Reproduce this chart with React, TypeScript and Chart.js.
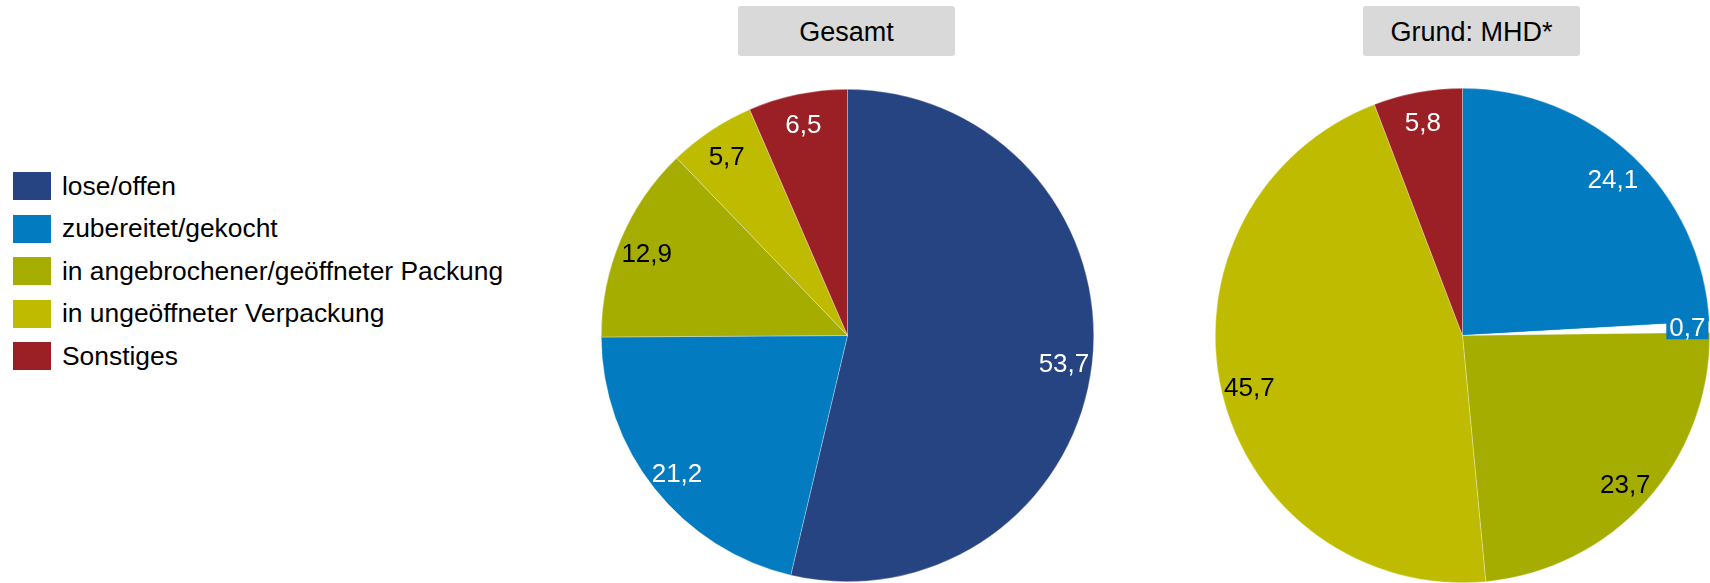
import React, { useEffect, useRef } from "react";
import { Chart, registerables } from "chart.js";

Chart.register(...registerables);

const categories = [
  "lose/offen",
  "zubereitet/gekocht",
  "in angebrochener/geöffneter Packung",
  "in ungeöffneter Verpackung",
  "Sonstiges",
];
const categoryColors = ["#264382", "#027BC0", "#A4AD00", "#BFBB00", "#9B2026"];

const gesamtTitle = "Gesamt";
const gesamtLabels = categories;
const gesamtValues = [53.7, 21.2, 12.9, 5.7, 6.5];
const gesamtColors = categoryColors;
const gesamtTextColors = ["#FFFFFF", "#FFFFFF", "#000000", "#000000", "#FFFFFF"];
const gesamtBoxColors: (string | null)[] = [null, null, null, null, null];

const mhdTitle = "Grund: MHD*";
const mhdLabels = [
  "zubereitet/gekocht",
  "lose/offen",
  "in angebrochener/geöffneter Packung",
  "in ungeöffneter Verpackung",
  "Sonstiges",
];
const mhdValues = [24.1, 0.7, 23.7, 45.7, 5.8];
const mhdColors = ["#027BC0", "#FFFFFF", "#A4AD00", "#BFBB00", "#9B2026"];
const mhdTextColors = ["#FFFFFF", "#FFFFFF", "#000000", "#000000", "#FFFFFF"];
const mhdBoxColors: (string | null)[] = [null, "#027BC0", null, null, null];

const FONT = "'Liberation Sans', Arial, Helvetica, sans-serif";

const fmt = (v: number) => v.toFixed(1).replace(".", ",");

const sliceLabelPlugin = {
  id: "sliceLabels",
  afterDatasetsDraw(chart: any, _args: any, opts: any) {
    const ctx = chart.ctx;
    const meta = chart.getDatasetMeta(0);
    const ds = chart.data.datasets[0];
    meta.data.forEach((arc: any, i: number) => {
      const p = arc.getProps(["x", "y", "startAngle", "endAngle", "outerRadius"], true);
      const mid = (p.startAngle + p.endAngle) / 2;
      const box = opts.boxColors[i];
      const rf = box ? opts.boxRadiusFactor : opts.radiusFactor;
      const lx = p.x + Math.cos(mid) * p.outerRadius * rf;
      const ly = p.y + Math.sin(mid) * p.outerRadius * rf;
      const text = fmt(ds.data[i]);
      ctx.save();
      ctx.font = `26px ${FONT}`;
      ctx.textAlign = "center";
      ctx.textBaseline = "middle";
      if (box) {
        const w = ctx.measureText(text).width + 6;
        ctx.fillStyle = box;
        ctx.fillRect(lx - w / 2, ly - 11.5, w, 23);
        ctx.fillStyle = opts.textColors[i];
        ctx.fillText(text, lx, ly + 1);
      } else {
        ctx.fillStyle = opts.textColors[i];
        ctx.fillText(text, lx, ly + 4);
      }
      ctx.restore();
    });
  },
};

function PieChart(props: {
  labels: string[];
  values: number[];
  colors: string[];
  textColors: string[];
  boxColors: (string | null)[];
  size: number;
}) {
  const ref = useRef<HTMLCanvasElement | null>(null);
  useEffect(() => {
    if (!ref.current) return;
    const chart = new Chart(ref.current, {
      type: "pie",
      data: {
        labels: props.labels,
        datasets: [
          {
            data: props.values,
            backgroundColor: props.colors,
            borderColor: "rgba(255,255,255,0.6)",
            borderWidth: 0.5,
          },
        ],
      },
      options: {
        animation: false,
        responsive: false,
        maintainAspectRatio: false,
        layout: { padding: 0 },
        plugins: {
          legend: { display: false },
          tooltip: { enabled: false },
          title: { display: false },
          sliceLabels: {
            textColors: props.textColors,
            boxColors: props.boxColors,
            radiusFactor: 0.885,
            boxRadiusFactor: 0.91,
          },
        } as any,
      },
      plugins: [sliceLabelPlugin as any],
    });
    return () => chart.destroy();
  }, []);
  return <canvas ref={ref} width={props.size} height={props.size} style={{ width: props.size, height: props.size, display: "block" }} />;
}

function TitleBox(props: { text: string; left: number }) {
  return (
    <div
      style={{
        position: "absolute",
        left: props.left,
        top: 6,
        width: 217,
        height: 50,
        background: "#D9D9D9",
        borderRadius: 3,
        display: "flex",
        alignItems: "center",
        justifyContent: "center",
        fontFamily: FONT,
        fontSize: 27,
        color: "#000",
        paddingTop: 2,
        boxSizing: "border-box",
      }}
    >
      {props.text}
    </div>
  );
}

export default function App() {
  useEffect(() => {
    document.body.style.margin = "0";
    document.body.style.overflow = "hidden";
  }, []);
  return (
    <div
      style={{
        position: "absolute",
        left: 0,
        top: 0,
        width: 1710,
        height: 583,
        overflow: "hidden",
        background: "#FFFFFF",
      }}
    >
      <div style={{ position: "absolute", left: 13, top: 172 }}>
        {categories.map((c, i) => (
          <div
            key={c}
            style={{
              display: "flex",
              alignItems: "center",
              height: 28,
              marginBottom: 14.5,
              fontFamily: FONT,
              fontSize: 26.4,
              color: "#000",
              whiteSpace: "nowrap",
            }}
          >
            <div style={{ width: 38, height: 28, background: categoryColors[i], marginRight: 11, flex: "none" }} />
            <span>{c}</span>
          </div>
        ))}
      </div>

      <TitleBox text={gesamtTitle} left={738} />
      <TitleBox text={mhdTitle} left={1363} />

      <div style={{ position: "absolute", left: 601, top: 89 }}>
        <PieChart
          labels={gesamtLabels}
          values={gesamtValues}
          colors={gesamtColors}
          textColors={gesamtTextColors}
          boxColors={gesamtBoxColors}
          size={493}
        />
      </div>
      <div style={{ position: "absolute", left: 1215, top: 88 }}>
        <PieChart
          labels={mhdLabels}
          values={mhdValues}
          colors={mhdColors}
          textColors={mhdTextColors}
          boxColors={mhdBoxColors}
          size={495}
        />
      </div>
    </div>
  );
}
